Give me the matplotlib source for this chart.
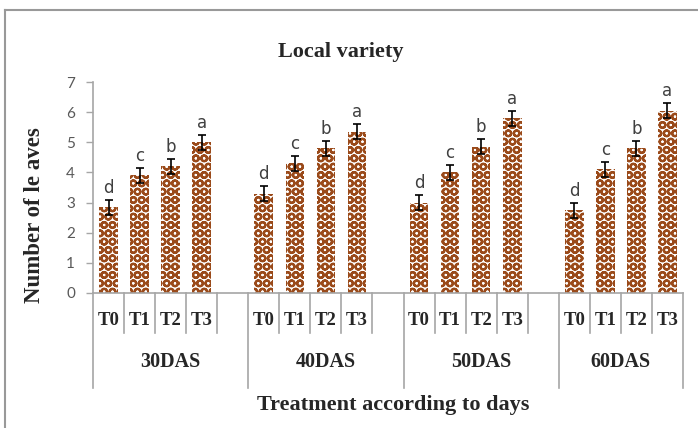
import matplotlib
matplotlib.use("Agg")
import matplotlib.pyplot as plt
import matplotlib.transforms as mtransforms
from matplotlib.lines import Line2D
import numpy as np

# ---- data ----
groups = ["30DAS", "40DAS", "50DAS", "60DAS"]
treatments = ["T0", "T1", "T2", "T3"]
values_30 = [2.85, 3.9, 4.2, 5.0]
values_40 = [3.3, 4.3, 4.8, 5.35]
values_50 = [3.0, 4.0, 4.85, 5.8]
values_60 = [2.75, 4.1, 4.8, 6.05]
errors = [0.25, 0.25, 0.25, 0.25]
letters = ["d", "c", "b", "a"]
yticks = [0, 1, 2, 3, 4, 5, 6, 7]

title = "Local variety"
xlabel = "Treatment according to days"
ylabel = "Number of le aves"

BROWN = "#9A4A1A"
GRAY = "#A6A6A6"
SERIF = "Liberation Serif"

plt.rcParams["hatch.linewidth"] = 1.6
plt.rcParams["hatch.color"] = BROWN

fig = plt.figure(figsize=(6.98, 4.28), dpi=100)
W, H = 698, 428
ax = fig.add_axes([93 / W, (H - 293) / H, 590 / W, 211 / H])

all_vals = [values_30, values_40, values_50, values_60]
positions = []
for gi, vals in enumerate(all_vals):
    for ti in range(len(vals)):
        positions.append(gi * 5 + ti)
flat_vals = [v for vals in all_vals for v in vals]
flat_err = errors * len(all_vals)
flat_letters = letters * len(all_vals)
flat_tlabels = treatments * len(all_vals)

ax.bar(positions, flat_vals, width=0.6, facecolor="white", edgecolor=BROWN,
       linewidth=0, hatch="OO", zorder=2)
ax.errorbar(positions, flat_vals, yerr=flat_err, fmt="none", ecolor="black",
            elinewidth=1.2, capsize=3, capthick=1.2, zorder=3)
for x, v, e, l in zip(positions, flat_vals, flat_err, flat_letters):
    ax.annotate(l, (x, v + e), xytext=(0, 5), textcoords="offset points",
                ha="center", va="baseline", fontsize=12, color="#404040",
                family="DejaVu Sans")

n_slots = 19
ax.set_xlim(-0.5, n_slots - 0.5)
ax.set_ylim(0, 7)
ax.set_yticks(yticks)
ax.set_yticklabels([str(t) for t in yticks], family="Lato", fontsize=11,
                   color="#595959")
ax.tick_params(axis="y", direction="out", length=5, width=1, color=GRAY, pad=8)
ax.set_xticks([])
for s in ["top", "right"]:
    ax.spines[s].set_visible(False)
for s in ["left", "bottom"]:
    ax.spines[s].set_color(GRAY)
    ax.spines[s].set_linewidth(1.2)

# category separators below the axis
trans = mtransforms.blended_transform_factory(ax.transData, fig.transFigure)
y_axis_fig = (H - 293) / H
y_short = (H - 333) / H
y_long = (H - 388) / H
for b in range(n_slots + 1):
    xb = b - 0.5
    is_group = (b % 5 == 0) or b == n_slots
    y_end = y_long if is_group else y_short
    ax.add_line(Line2D([xb, xb], [y_axis_fig, y_end], transform=trans,
                       color=GRAY, lw=1.2, clip_on=False))

# treatment labels
for x, t in zip(positions, flat_tlabels):
    ax.text(x, (H - 325) / H, t, transform=trans, ha="center", va="baseline",
            family=SERIF, fontweight="bold", fontsize=13.5, color="#262626")
# group labels
for gi, g in enumerate(groups):
    start = gi * 5 - 0.5
    end = min(gi * 5 + 4.5, n_slots - 0.5)
    ax.text((start + end) / 2, (H - 367) / H, g, transform=trans, ha="center",
            va="baseline", family=SERIF, fontweight="bold", fontsize=14.5,
            color="#262626")

fig.text(341 / W, (H - 57) / H, title, ha="center", va="baseline",
         family=SERIF, fontweight="bold", fontsize=16, color="#262626")
fig.text(393 / W, (H - 410) / H, xlabel, ha="center", va="baseline",
         family=SERIF, fontweight="bold", fontsize=16, color="#262626")
fig.text(35 / W, (H - 215) / H, ylabel, ha="center", va="center",
         rotation=90, family=SERIF, fontweight="bold", fontsize=16.5,
         color="#262626")

# outer chart border (top and left visible)
fig.add_artist(Line2D([5 / W, 5 / W], [0, (H - 10) / H], transform=fig.transFigure,
                      color="#999999", lw=1.5))
fig.add_artist(Line2D([5 / W, 1], [(H - 10) / H, (H - 10) / H],
                      transform=fig.transFigure, color="#999999", lw=1.5))

fig.savefig("out.png", dpi=100)
